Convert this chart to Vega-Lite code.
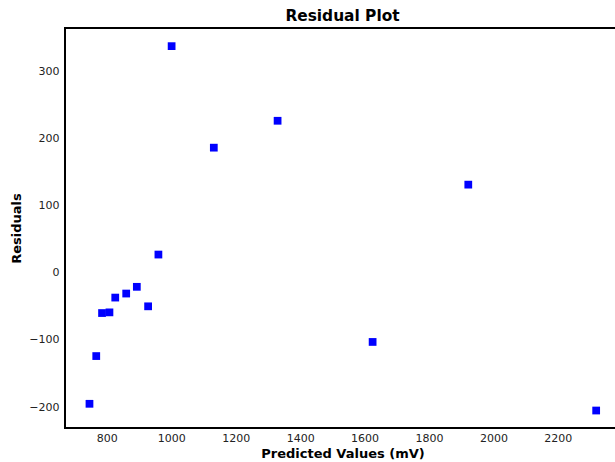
{
  "$schema": "https://vega.github.io/schema/vega-lite/v6.json",
  "autosize": "none",
  "padding": {"left": 65, "top": 28, "right": 0, "bottom": 34},
  "width": 555,
  "height": 400,
  "background": "white",
  "title": {"text": "Residual Plot", "font": "DejaVu Sans", "fontSize": 15.4, "fontWeight": "bold", "color": "black", "offset": 4, "frame": "group", "anchor": "middle"},
  "config": {
    "view": {"stroke": "black", "strokeWidth": 2},
    "axis": {"labelFont": "DejaVu Sans", "titleFont": "DejaVu Sans", "labelColor": "#222", "titleColor": "black", "grid": false, "domain": false, "ticks": false, "labelFontSize": 11, "titleFontSize": 13, "titleFontWeight": "bold"}
  },
  "data": {"values": [
    {"predicted": 1001, "residual": 337},
    {"predicted": 1132, "residual": 186},
    {"predicted": 1330, "residual": 226},
    {"predicted": 1922, "residual": 131},
    {"predicted": 960, "residual": 27},
    {"predicted": 893, "residual": -21},
    {"predicted": 928, "residual": -50},
    {"predicted": 860, "residual": -31},
    {"predicted": 826, "residual": -37},
    {"predicted": 808, "residual": -59},
    {"predicted": 785, "residual": -60},
    {"predicted": 767, "residual": -124},
    {"predicted": 746, "residual": -195},
    {"predicted": 1625, "residual": -103},
    {"predicted": 2319, "residual": -205}
  ]},
  "mark": {"type": "square", "color": "#0000ff", "opacity": 1, "size": 60},
  "encoding": {
    "x": {"field": "predicted", "type": "quantitative", "title": "Predicted Values (mV)",
      "scale": {"domain": [670, 2393], "nice": false, "zero": false},
      "axis": {"values": [800, 1000, 1200, 1400, 1600, 1800, 2000, 2200], "format": "d", "labelPadding": 4, "titlePadding": 4}},
    "y": {"field": "residual", "type": "quantitative", "title": "Residuals",
      "scale": {"domain": [-231, 364], "nice": false, "zero": false},
      "axis": {"values": [-200, -100, 0, 100, 200, 300], "format": "d", "labelPadding": 6, "titlePadding": 5}}
  }
}
